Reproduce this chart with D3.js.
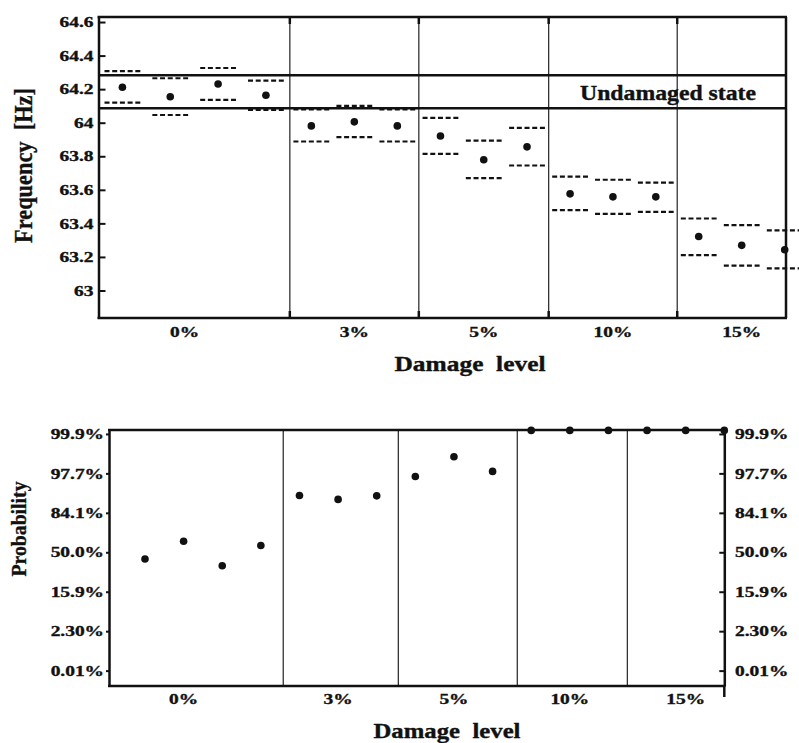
<!DOCTYPE html>
<html>
<head>
<meta charset="utf-8">
<script src="https://cdn.jsdelivr.net/npm/d3@7"></script>
<style>
  html, body { margin: 0; padding: 0; background: #fff; }
  svg { display: block; }
  text { font-family: "Liberation Serif", "Times New Roman", Times, serif; font-weight: bold; fill: #111; stroke: #111; stroke-width: 0.35px; }
</style>
</head>
<body>
<script>
// ---- data ----------------------------------------------------------------
const damageLevels = ["0%", "3%", "5%", "10%", "15%"];
// damage level (index into damageLevels) of each measurement
const measurementLevel = [0, 0, 0, 0, 1, 1, 1, 2, 2, 2, 3, 3, 3, 4, 4, 4];

// identified frequency [Hz]: estimate and confidence bounds
const freqMean  = [64.211, 64.155, 64.231, 64.164, 63.981, 64.005, 63.981, 63.921, 63.779, 63.856, 63.576, 63.558, 63.558, 63.322, 63.269, 63.243];
const freqUpper = [64.308, 64.265, 64.326, 64.251, 64.080, 64.100, 64.080, 64.029, 63.893, 63.969, 63.679, 63.660, 63.643, 63.429, 63.390, 63.358];
const freqLower = [64.120, 64.046, 64.136, 64.076, 63.888, 63.914, 63.888, 63.814, 63.670, 63.745, 63.479, 63.457, 63.469, 63.211, 63.148, 63.132];
const undamagedBand = [64.086, 64.283];
const freqTicks = [63, 63.2, 63.4, 63.6, 63.8, 64, 64.2, 64.4, 64.6];
const freqTickLabels = ["63", "63.2", "63.4", "63.6", "63.8", "64", "64.2", "64.4", "64.6"];

// damage probability, expressed in standard-normal (sigma) units
const probSigma = [-0.17, 0.28, -0.34, 0.17, 1.44, 1.34, 1.43, 1.92, 2.42, 2.05, 3.09, 3.09, 3.09, 3.09, 3.09, 3.09];
const probTicks = [-3, -2, -1, 0, 1, 2, 3];
const probTickLabels = ["0.01%", "2.30%", "15.9%", "50.0%", "84.1%", "97.7%", "99.9%"];

// ---- layout ----------------------------------------------------------------
const W = 799, H = 743;
const SX = 1.34;           // horizontal widening of tick lettering
const TICK_FS = 14.5;
const AXIS_W = 2.5;

const svg = d3.select("body").append("svg").attr("width", W).attr("height", H);

function wideText(g, str, x, y, size, anchor) {
  return g.append("text")
    .attr("transform", `translate(${x},${y}) scale(${SX},1)`)
    .attr("text-anchor", anchor)
    .style("font-size", size + "px")
    .text(str);
}
function fitText(g, str, x, y, size, len, rotate) {
  return g.append("text")
    .attr("transform", `translate(${x},${y})` + (rotate ? " rotate(-90)" : ""))
    .attr("text-anchor", "middle")
    .attr("textLength", len)
    .attr("lengthAdjust", "spacingAndGlyphs")
    .style("font-size", size + "px")
    .style("white-space", "pre")
    .text(str);
}
function hline(g, x1, x2, y, w) {
  g.append("line").attr("x1", x1).attr("x2", x2).attr("y1", y).attr("y2", y)
    .attr("stroke", "#111").attr("stroke-width", w);
}
function vline(g, x, y1, y2, w, col) {
  g.append("line").attr("x1", x).attr("x2", x).attr("y1", y1).attr("y2", y2)
    .attr("stroke", col || "#111").attr("stroke-width", w);
}
function styleAxis(ax) {
  ax.attr("font-family", null);
  ax.select(".domain").attr("stroke", "#111").attr("stroke-width", AXIS_W);
  ax.selectAll(".tick line").attr("stroke", "#111").attr("stroke-width", 2);
  ax.selectAll(".tick text").attr("transform", `scale(${SX},1)`)
    .attr("fill", "#111").style("font-size", TICK_FS + "px");
}

// ===== Frequency panel =====================================================
{
  const L = 98.5, R = 786, T = 17, B = 318;
  const g = svg.append("g");
  const y = d3.scaleLinear().domain([62.836, 64.63]).range([B, T]);
  const x = d3.scaleLinear().domain([0, 15.99]).range([L, R]);

  // group extents along the x axis (slot units)
  const spans = [4.45, 3, 3.02, 2.99, 3];
  const starts = [0];
  spans.forEach((s, i) => starts.push(starts[i] + s));
  const counts = damageLevels.map((_, k) => measurementLevel.filter(l => l === k).length);
  const pos = measurementLevel.map((lvl, i) => {
    const k = i - measurementLevel.indexOf(lvl);
    return starts[lvl] + (k + 0.5) * spans[lvl] / counts[lvl];
  });

  // group separators
  starts.slice(1, 5).forEach(s => {
    vline(g, x(s), T, B, 1.3, "#333");
    vline(g, x(s), B - 7, B, AXIS_W);
    vline(g, x(s), T, T + 7, AXIS_W);
  });

  // undamaged band
  undamagedBand.forEach(v => hline(g, L, R, y(v), AXIS_W));
  fitText(g, "Undamaged state", 668, 100, 20, 176, false);

  // frame
  hline(g, L - 1, R + 1, T, AXIS_W);
  hline(g, L - 1, R + 1, B, AXIS_W);
  vline(g, R, T, B, AXIS_W);

  const ax = g.append("g").attr("transform", `translate(${L},0)`)
    .call(d3.axisLeft(y).tickValues(freqTicks)
      .tickFormat((d, i) => freqTickLabels[i])
      .tickSizeInner(-7).tickSizeOuter(0).tickPadding(5 / SX));
  styleAxis(ax);

  // confidence bounds
  const halfW = 17.9;
  [freqUpper, freqLower].forEach(arr => {
    g.append("g").selectAll("line").data(arr).join("line")
      .attr("x1", (d, i) => x(pos[i]) - halfW)
      .attr("x2", (d, i) => x(pos[i]) + halfW)
      .attr("y1", d => y(d)).attr("y2", d => y(d))
      .attr("stroke", "#111").attr("stroke-width", 2.2)
      .attr("stroke-dasharray", "5,2.7");
  });
  g.append("g").selectAll("circle").data(freqMean).join("circle")
    .attr("cx", (d, i) => x(pos[i])).attr("cy", d => y(d)).attr("r", 3.8).attr("fill", "#111");

  damageLevels.forEach((lbl, k) => {
    const cx = k === 0 ? x(starts[1] * 0.45) : x(starts[k] + spans[k] / 2);
    wideText(g, lbl, cx, 336.5, TICK_FS, "middle");
  });

  fitText(g, "Damage  level", 470, 370.5, 20, 151, false);
  fitText(g, "Frequency  [Hz]", 32, 165.5, 26, 155, true);
}

// ===== Probability panel ===================================================
{
  const L = 109, R = 724.3, T = 430, B = 686;
  const g = svg.append("g");
  const y = d3.scaleLinear().domain([-3.39, 3.1]).range([B, T]);
  const x = d3.scaleLinear().domain([-0.932, 15]).range([L, R]);

  const separators = [3.58, 6.56, 9.64, 12.49];
  separators.forEach(s => vline(g, x(s), T, B, 1.3, "#333"));

  hline(g, L - 1, R + 1, T, AXIS_W);
  hline(g, L - 1, R + 1, B, AXIS_W);

  const fmt = (d, i) => probTickLabels[i];
  const axL = g.append("g").attr("transform", `translate(${L},0)`)
    .call(d3.axisLeft(y).tickValues(probTicks).tickFormat(fmt)
      .tickSizeInner(3).tickSizeOuter(0).tickPadding(5 / SX - 3));
  const axR = g.append("g").attr("transform", `translate(${R},0)`)
    .call(d3.axisRight(y).tickValues(probTicks).tickFormat(fmt)
      .tickSizeInner(-5).tickSizeOuter(0).tickPadding(10.7 / SX));
  styleAxis(axL);
  styleAxis(axR);
  vline(g, R, B, B + 11, AXIS_W);

  g.append("g").selectAll("circle").data(probSigma).join("circle")
    .attr("cx", (d, i) => x(i)).attr("cy", d => y(d)).attr("r", 3.8).attr("fill", "#111");

  // level label sits under the middle (or second) point of its group
  damageLevels.forEach((lbl, k) => {
    const first = measurementLevel.indexOf(k);
    const n = measurementLevel.filter(l => l === k).length;
    wideText(g, lbl, x(first + Math.floor((n - 1) / 2)), 703.5, TICK_FS, "middle");
  });

  fitText(g, "Damage  level", 447, 738, 20, 147, false);
  fitText(g, "Probability", 26, 529, 21, 95, true);
}
</script>
</body>
</html>
